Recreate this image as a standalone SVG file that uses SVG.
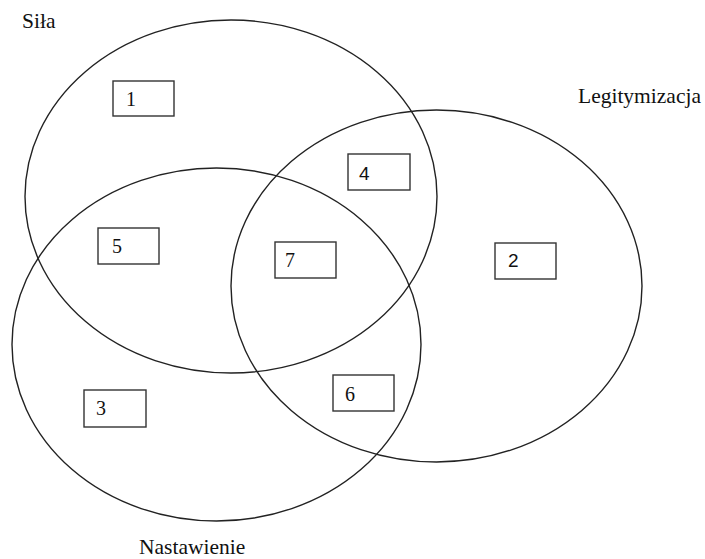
<svg xmlns="http://www.w3.org/2000/svg" width="705" height="559" viewBox="0 0 705 559">
<style>
.c{fill:none;stroke:#222;stroke-width:1.4}
.b{fill:#fff;stroke:#333;stroke-width:1.4}
.t{font-family:'Liberation Serif','Times New Roman','DejaVu Serif',serif;font-size:21.5px;fill:#111}
.n{font-family:'Liberation Serif','Times New Roman','DejaVu Serif',serif;font-size:20px;fill:#111}
.s{font-family:'Liberation Sans',Arial,sans-serif;font-size:19px;fill:#111}
</style>
<rect width="705" height="559" fill="#fff"/>
<g id="sets">
<ellipse id="sila" class="c" cx="231" cy="196.5" rx="206" ry="176.5"/>
<ellipse id="legitymizacja" class="c" cx="436.5" cy="286" rx="205.5" ry="176"/>
<ellipse id="nastawienie" class="c" cx="216.5" cy="344.5" rx="204.5" ry="176.5"/>
</g>
<g id="labels">
<text class="t" x="22" y="28" font-family="Liberation Serif, serif">Siła</text>
<text class="t" x="578" y="103" font-family="Liberation Serif, serif">Legitymizacja</text>
<text class="t" x="139" y="554" font-family="Liberation Serif, serif">Nastawienie</text>
</g>
<g id="box1"><rect class="b" x="113" y="81" width="61" height="35"/><text class="n" x="126" y="106">1</text></g>
<g id="box4"><rect class="b" x="348" y="154" width="62" height="36"/><text class="s" x="359" y="180">4</text></g>
<g id="box5"><rect class="b" x="98" y="228" width="61" height="36"/><text class="n" x="112" y="253">5</text></g>
<g id="box7"><rect class="b" x="275" y="242" width="61" height="36"/><text class="n" x="285" y="267">7</text></g>
<g id="box2"><rect class="b" x="495" y="243" width="61" height="36"/><text class="s" x="508" y="267">2</text></g>
<g id="box3"><rect class="b" x="84" y="390" width="62" height="37"/><text class="n" x="96" y="415">3</text></g>
<g id="box6"><rect class="b" x="333" y="375" width="61" height="36"/><text class="n" x="345" y="401">6</text></g>
<g id="connectors"></g>
</svg>
